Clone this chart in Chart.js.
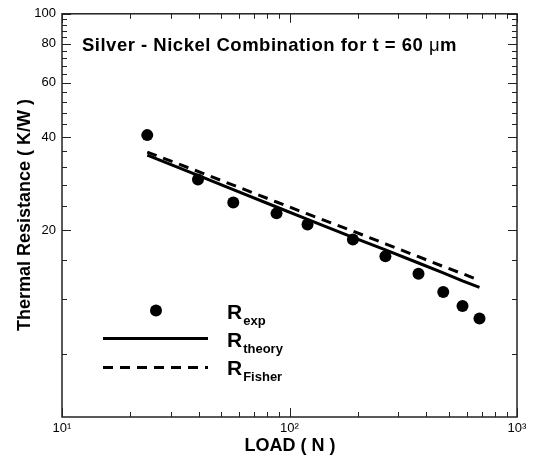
<!DOCTYPE html>
<html><head><meta charset="utf-8">
<script src="https://cdn.jsdelivr.net/npm/chart.js@4"></script>
<style>html,body{margin:0;padding:0;background:#fff}#wrap{width:533px;height:458px}</style>
</head><body><div id="wrap"><canvas id="c" width="533" height="458"></canvas></div>
<script>
// ---- data ----
const loads   = [23.7, 39.6, 56.6, 87.7, 120, 190, 264, 369, 474, 576, 684];
const rExp    = [40.6, 29.2, 24.6, 22.7, 20.9, 18.7, 16.5, 14.5, 12.65, 11.4, 10.4];
const rTheory = [35.0, 30.1, 27.1, 23.8, 21.7, 19.0, 17.3, 15.7, 14.6, 13.75, 13.1];
const rFisher = [35.8, 31.0, 28.0, 24.7, 22.6, 19.9, 18.1, 16.45, 15.3, 14.5, 13.8];
const yTickValues = [20, 40, 60, 80, 100];
const yMinorValues = [8, 12, 16, 24, 28, 32, 36, 44, 48, 52, 56, 64, 68, 72, 76, 84, 88, 92, 96];
const xTickValues = [10, 100, 1000];
const xTickLabels = ['10\u00B9', '10\u00B2', '10\u00B3'];
const xMinorValues = [20, 30, 40, 50, 60, 70, 80, 90, 200, 300, 400, 500, 600, 700, 800, 900];
const titleText = 'Silver - Nickel Combination for t = 60 ';
const xTitle = 'LOAD ( N )';
const yTitle = 'Thermal Resistance ( K/W )';
const legendSubs = ['exp', 'theory', 'Fisher'];

const pts = arr => loads.map((x, i) => ({x: x, y: arr[i]}));
const FONT = '"Liberation Sans", Arial, sans-serif';

const decor = {
  id: 'decor',
  afterDraw(chart) {
    const ctx = chart.ctx, a = chart.chartArea;
    const xs = chart.scales.x, ys = chart.scales.y;
    ctx.save();
    ctx.strokeStyle = '#222';
    ctx.lineWidth = 1.5;
    ctx.strokeRect(a.left, a.top, a.right - a.left, a.bottom - a.top);
    ctx.lineWidth = 1;
    ctx.beginPath();
    const yt = (v, len) => {
      const p = Math.round(ys.getPixelForValue(v)) + 0.5;
      ctx.moveTo(a.left, p); ctx.lineTo(a.left + len, p);
      ctx.moveTo(a.right, p); ctx.lineTo(a.right - len, p);
    };
    const xt = (v, len) => {
      const p = Math.round(xs.getPixelForValue(v)) + 0.5;
      ctx.moveTo(p, a.bottom); ctx.lineTo(p, a.bottom - len);
      ctx.moveTo(p, a.top); ctx.lineTo(p, a.top + len);
    };
    yTickValues.forEach(v => yt(v, 9));
    yMinorValues.forEach(v => yt(v, 5));
    xTickValues.forEach(v => xt(v, 9));
    xMinorValues.forEach(v => xt(v, 5));
    ctx.stroke();

    ctx.fillStyle = '#000';
    // title
    ctx.textBaseline = 'alphabetic';
    ctx.textAlign = 'left';
    ctx.letterSpacing = '0.5px';
    ctx.font = 'bold 18.5px ' + FONT;
    ctx.fillText(titleText, 82, 51);
    let w = ctx.measureText(titleText).width;
    ctx.font = '18.5px ' + FONT;
    ctx.fillText('\u03BC', 82 + w, 51);
    let w2 = ctx.measureText('\u03BC').width;
    ctx.font = 'bold 18.5px ' + FONT;
    ctx.fillText('m', 82 + w + w2, 51);
    ctx.letterSpacing = '0px';

    // x title
    ctx.textAlign = 'center';
    ctx.font = 'bold 18px ' + FONT;
    ctx.fillText(xTitle, 290, 451);
    // y title
    ctx.save();
    ctx.translate(30, 215);
    ctx.rotate(-Math.PI / 2);
    ctx.fillText(yTitle, 0, 0);
    ctx.restore();

    // legend
    ctx.beginPath();
    ctx.arc(156, 310.5, 6, 0, Math.PI * 2);
    ctx.fill();
    ctx.strokeStyle = '#000';
    ctx.lineWidth = 3;
    ctx.beginPath(); ctx.moveTo(103, 338.5); ctx.lineTo(208, 338.5); ctx.stroke();
    ctx.setLineDash([10, 7]);
    ctx.beginPath(); ctx.moveTo(103, 367.5); ctx.lineTo(208, 367.5); ctx.stroke();
    ctx.setLineDash([]);
    const baseY = [319, 347, 375];
    ctx.textAlign = 'left';
    legendSubs.forEach((s, i) => {
      ctx.font = 'bold 21px ' + FONT;
      ctx.fillText('R', 227, baseY[i]);
      const rw = ctx.measureText('R').width;
      ctx.font = 'bold 13px ' + FONT;
      ctx.fillText(s, 227 + rw + 1, baseY[i] + 6);
    });
    ctx.restore();
  }
};

new Chart(document.getElementById('c'), {
  type: 'scatter',
  data: {
    datasets: [
      {label: 'Rexp', data: pts(rExp), showLine: false, pointRadius: 6, pointHoverRadius: 6,
       backgroundColor: '#000', borderColor: '#000', borderWidth: 0},
      {label: 'Rtheory', data: pts(rTheory), showLine: true, pointRadius: 0, borderColor: '#000',
       borderWidth: 3, fill: false},
      {label: 'RFisher', data: pts(rFisher), showLine: true, pointRadius: 0, borderColor: '#000',
       borderWidth: 3, borderDash: [10, 7], fill: false}
    ]
  },
  options: {
    responsive: false,
    animation: false,
    devicePixelRatio: 1,
    layout: {padding: {top: 10, right: 16, left: 0, bottom: 0}},
    plugins: {legend: {display: false}, tooltip: {enabled: false}},
    events: [],
    scales: {
      x: {
        type: 'logarithmic', min: 10, max: 1000, position: 'bottom',
        grid: {display: false, drawTicks: false}, border: {display: false},
        afterBuildTicks: s => { s.ticks = xTickValues.map(v => ({value: v})); },
        afterFit: s => { s.height = 41; },
        ticks: {
          autoSkip: false, maxRotation: 0, padding: 4, color: '#000',
          font: {family: FONT, size: 13},
          callback: (v) => { const i = xTickValues.indexOf(v); return i >= 0 ? xTickLabels[i] : ''; }
        }
      },
      y: {
        type: 'logarithmic', min: 5, max: 100,
        grid: {display: false, drawTicks: false}, border: {display: false},
        afterBuildTicks: s => { s.ticks = yTickValues.map(v => ({value: v})); },
        afterFit: s => { s.width = 62; },
        ticks: {
          autoSkip: false, padding: 6, color: '#000',
          font: {family: FONT, size: 13},
          callback: (v) => String(v)
        }
      }
    }
  },
  plugins: [decor]
});
</script>
</body></html>
